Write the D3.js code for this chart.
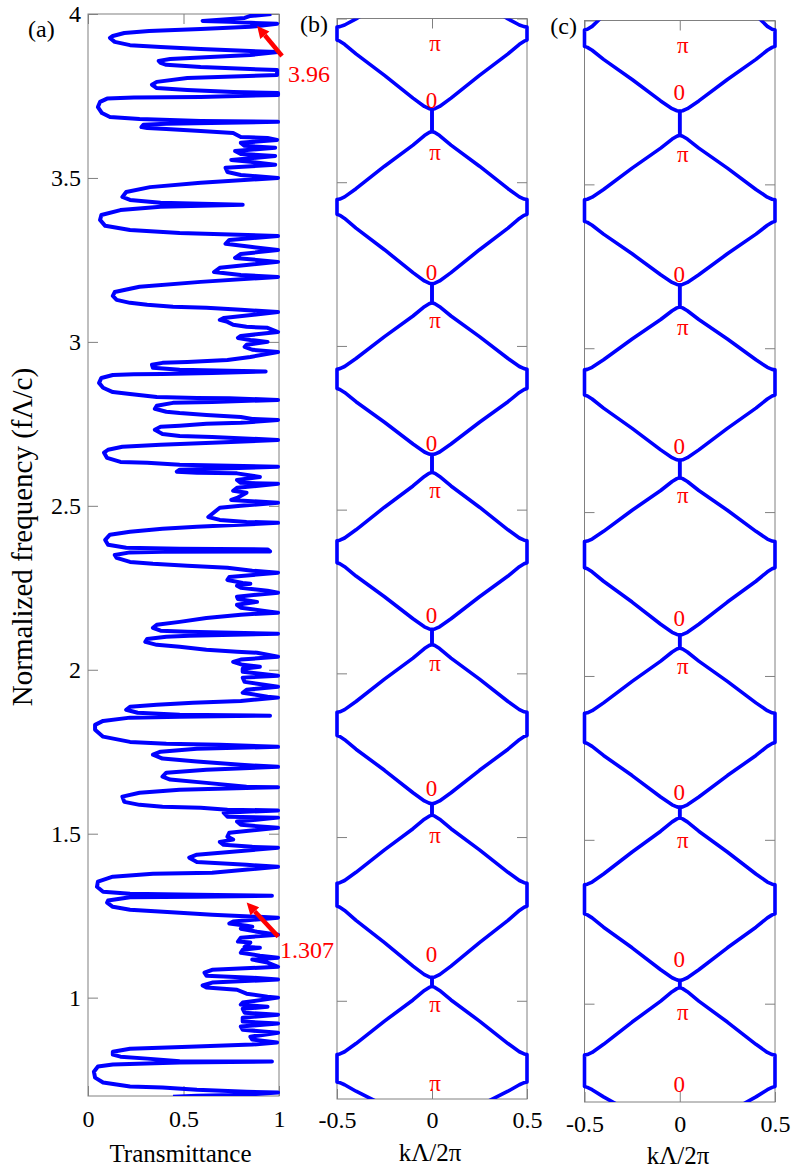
<!DOCTYPE html>
<html>
<head>
<meta charset="utf-8">
<script src="https://cdn.jsdelivr.net/npm/d3@7"></script>
<style>
  body { margin: 0; background: #fff; }
  text { font-family: "Liberation Serif", "Times New Roman", serif; }
</style>
</head>
<body>
<div id="chart"></div>
<script>
// ---- data ----
const freqTicks = [1, 1.5, 2, 2.5, 3, 3.5, 4];
const transTicks = [0, 0.5, 1];
const kTicks = [-0.5, 0, 0.5];

// (a) transmittance trace, [T, f] in drawing order
const transCurve = [
  [0.96,4.000],[0.85,3.994],[0.82,3.988],[0.60,3.979],[0.74,3.976],[0.99,3.970],[0.85,3.961],[0.59,3.954],[0.32,3.948],[0.19,3.942],[0.13,3.933],[0.115,3.927],[0.14,3.915],[0.22,3.905],[0.38,3.899],[0.59,3.893],[0.85,3.887],[0.995,3.884],
  [0.85,3.875],[0.64,3.869],[0.43,3.863],[0.37,3.857],[0.38,3.851],[0.41,3.845],[0.59,3.838],[0.99,3.829],
  [0.99,3.814],[0.52,3.805],[0.36,3.793],[0.335,3.784],[0.36,3.774],[0.52,3.768],[0.76,3.762],[0.995,3.759],
  [0.995,3.753],[0.59,3.747],[0.24,3.745],[0.10,3.742],[0.063,3.732],[0.052,3.716],[0.073,3.698],[0.115,3.686],[0.27,3.680],[0.59,3.674],[0.995,3.671],
  [0.41,3.665],[0.29,3.662],[0.28,3.655],[0.31,3.652],[0.41,3.649],[0.59,3.643],[0.76,3.637],[0.80,3.625],[0.94,3.622],[0.99,3.616],
  [0.80,3.607],[0.82,3.598],[0.98,3.592],[0.77,3.582],[0.80,3.573],[0.98,3.567],[0.75,3.555],[0.85,3.549],[0.98,3.540],[0.72,3.531],[0.73,3.518],[0.80,3.509],[0.995,3.500],
  [0.59,3.485],[0.325,3.472],[0.20,3.457],[0.18,3.442],[0.22,3.433],[0.38,3.424],[0.81,3.418],[0.38,3.412],[0.17,3.402],[0.07,3.387],[0.063,3.372],[0.09,3.354],[0.22,3.341],[0.48,3.332],[0.995,3.323],[0.74,3.311],[0.72,3.299],[0.85,3.290],[0.995,3.280],[0.80,3.268],[0.77,3.256],[0.995,3.244],[0.69,3.226],[0.66,3.213],[0.80,3.204],[0.995,3.198],[0.59,3.183],[0.27,3.168],[0.14,3.152],[0.13,3.140],
  [0.15,3.128],[0.22,3.119],[0.31,3.113],[0.445,3.107],[0.62,3.104],[0.80,3.098],[0.995,3.091],
  [0.71,3.073],[0.69,3.067],[0.73,3.061],[0.76,3.052],[0.83,3.046],[0.94,3.043],[0.995,3.030],
  [0.80,3.018],[0.785,3.012],[0.85,3.006],[0.94,3.000],[0.83,2.991],[0.82,2.985],[0.86,2.976],[0.995,2.969],
  [0.85,2.954],[0.73,2.945],[0.52,2.939],[0.39,2.936],[0.335,2.930],[0.34,2.921],[0.48,2.915],[0.74,2.912],[0.93,2.910],[0.65,2.905],[0.39,2.902],[0.24,2.901],[0.13,2.899],[0.07,2.890],[0.058,2.875],[0.079,2.860],[0.13,2.847],[0.22,2.841],[0.36,2.832],[0.57,2.829],[0.74,2.828],[0.995,2.823],
  [0.65,2.817],[0.445,2.814],[0.36,2.805],[0.35,2.796],[0.41,2.787],[0.48,2.783],[0.62,2.777],[0.80,2.771],[0.86,2.765],[0.995,2.762],
  [0.80,2.753],[0.62,2.750],[0.48,2.744],[0.38,2.741],[0.35,2.732],[0.39,2.719],[0.48,2.713],[0.65,2.710],[0.995,2.701],
  [0.65,2.692],[0.38,2.686],[0.18,2.680],[0.105,2.671],[0.084,2.662],[0.10,2.646],[0.17,2.634],[0.31,2.631],[0.48,2.625],[0.995,2.619],
  [0.48,2.610],[0.465,2.604],[0.57,2.601],[0.78,2.599],[0.90,2.588],[0.78,2.579],[0.80,2.570],[0.995,2.567],[0.78,2.555],[0.76,2.546],[0.83,2.540],[0.78,2.524],[0.75,2.518],[0.995,2.509],
  [0.80,2.500],[0.69,2.494],[0.63,2.466],[0.69,2.457],[0.83,2.451],[0.995,2.448],
  [0.57,2.436],[0.39,2.430],[0.22,2.421],[0.115,2.412],[0.09,2.396],[0.105,2.381],[0.20,2.372],[0.48,2.369],[0.94,2.367],[0.953,2.361],[0.39,2.360],[0.22,2.358],[0.14,2.350],[0.15,2.341],[0.22,2.329],[0.34,2.323],[0.52,2.317],[0.73,2.311],[0.86,2.302],[0.995,2.296],
  [0.74,2.283],[0.73,2.274],[0.81,2.265],[0.85,2.262],[0.78,2.256],[0.80,2.250],[0.94,2.241],[0.995,2.235],
  [0.78,2.223],[0.785,2.216],[0.885,2.207],[0.78,2.198],[0.80,2.189],[0.953,2.177],[0.995,2.174],
  [0.80,2.168],[0.62,2.158],[0.48,2.146],[0.36,2.137],[0.34,2.128],[0.38,2.119],[0.52,2.116],[0.995,2.110],
  [0.53,2.104],[0.41,2.101],[0.31,2.094],[0.30,2.085],[0.36,2.076],[0.48,2.070],[0.62,2.061],[0.78,2.055],[0.885,2.052],[0.995,2.040],
  [0.80,2.031],[0.76,2.024],[0.81,2.015],[0.90,2.009],[0.81,2.003],[0.81,1.994],[0.995,1.982],[0.81,1.976],[0.82,1.963],[0.995,1.948],[0.83,1.939],[0.81,1.930],[0.94,1.918],[0.995,1.915],
  [0.80,1.905],[0.55,1.899],[0.36,1.893],[0.22,1.887],[0.20,1.878],[0.26,1.869],[0.48,1.863],[0.953,1.860],
  [0.48,1.857],[0.22,1.854],[0.079,1.844],[0.037,1.832],[0.037,1.817],[0.079,1.796],[0.22,1.780],[0.41,1.774],[0.69,1.771],[0.995,1.765],
  [0.57,1.759],[0.38,1.750],[0.34,1.741],[0.39,1.729],[0.57,1.720],[0.80,1.710],[0.995,1.704],
  [0.62,1.695],[0.41,1.686],[0.39,1.674],[0.43,1.665],[0.62,1.655],[0.83,1.643],[0.995,1.642],
  [0.48,1.634],[0.27,1.625],[0.18,1.613],[0.19,1.597],[0.27,1.588],[0.39,1.582],[0.59,1.579],[0.73,1.573],[0.995,1.571],
  [0.71,1.564],[0.73,1.552],[0.995,1.549],[0.78,1.537],[0.80,1.527],[0.995,1.518],[0.74,1.503],[0.73,1.491],[0.76,1.482],[0.69,1.475],[0.71,1.466],[0.86,1.460],[0.995,1.457],
  [0.57,1.436],[0.53,1.427],[0.57,1.414],[0.83,1.405],[0.995,1.399],
  [0.65,1.381],[0.34,1.378],[0.13,1.369],[0.052,1.354],[0.047,1.338],[0.079,1.323],[0.22,1.317],[0.57,1.314],[0.963,1.311],
  [0.57,1.308],[0.22,1.306],[0.105,1.296],[0.10,1.290],[0.13,1.277],[0.22,1.268],[0.48,1.259],[0.65,1.253],[0.995,1.244],
  [0.76,1.232],[0.74,1.226],[0.83,1.219],[0.86,1.216],[0.80,1.210],[0.885,1.201],[0.995,1.192],
  [0.80,1.183],[0.785,1.171],[0.85,1.168],[0.82,1.155],[0.90,1.152],[0.81,1.146],[0.80,1.137],[0.90,1.128],[0.995,1.122],[0.86,1.116],[0.94,1.107],[0.995,1.094],
  [0.65,1.085],[0.61,1.076],[0.62,1.067],[0.86,1.061],[0.995,1.055],
  [0.65,1.046],[0.60,1.037],[0.62,1.031],[0.78,1.024],[0.83,1.012],[0.94,1.003],[0.995,1.000],
  [0.81,0.985],[0.80,0.979],[0.94,0.972],[0.81,0.966],[0.82,0.954],[0.995,0.948],[0.81,0.939],[0.81,0.927],[0.995,0.921],[0.80,0.912],[0.81,0.902],[0.995,0.893],[0.85,0.881],[0.86,0.872],[0.99,0.863],[0.86,0.857],
  [0.53,0.850],[0.22,0.844],[0.13,0.835],[0.13,0.826],[0.17,0.820],[0.31,0.814],[0.48,0.806],[0.963,0.805],[0.48,0.802],[0.13,0.796],[0.052,0.790],[0.031,0.774],[0.037,0.756],[0.079,0.741],[0.22,0.729],[0.39,0.726],[0.57,0.719],[0.83,0.713],[0.995,0.711],[0.83,0.704],[0.57,0.701],[0.445,0.698]
];

// arrows in (a): [T, f] of tail and head, plus their labels
const arrowTails = [[1.016, 3.872], [0.996, 1.186]];
const arrowHeads = [[0.869, 3.975], [0.813, 1.301]];
const arrowTexts = ["3.96", "1.307"];
const arrowTextPos = [[1.047, 3.793], [1.005, 1.122]];

// (b) band gaps: lower and upper frequency, first gap at zone edge, then alternating
const gapLoB = [0.752, 1.044, 1.289, 1.567, 1.810, 2.088, 2.338, 2.614, 2.870, 3.132, 3.402, 3.655, 3.934];
const gapHiB = [0.836, 1.071, 1.359, 1.602, 1.881, 2.134, 2.405, 2.668, 2.929, 3.190, 3.447, 3.723, 3.974];
const bandEndsB = [0.611, 4.13];
// (c)
const gapLoC = [0.747, 1.049, 1.274, 1.567, 1.797, 2.085, 2.330, 2.605, 2.857, 3.126, 3.387, 3.650, 3.921];
const gapHiC = [0.843, 1.071, 1.363, 1.599, 1.886, 2.125, 2.410, 2.658, 2.934, 3.193, 3.453, 3.723, 3.971];
const bandEndsC = [0.590, 4.25];

// shape of one band between its two edges (fraction of k travel, fraction of f travel)
const shapeS = [0, 0.03, 0.08, 0.2, 0.5, 0.8, 0.92, 0.97, 1];
const shapeT = [0, 0.008, 0.04, 0.16, 0.49, 0.80, 0.94, 0.985, 1];

// red phase labels at k = 0
const phaseTextB = ["π","0","π","0","π","0","π","0","π","0","π","0","π","π"];
const phaseFreqB = [3.926, 3.751, 3.593, 3.227, 3.078, 2.704, 2.560, 2.178, 2.033, 1.649, 1.507, 1.142, 0.989, 0.749];
const phaseTextC = ["π","0","π","0","π","0","π","0","π","0","π","0","π","0"];
const phaseFreqC = [3.926, 3.782, 3.594, 3.227, 3.064, 2.703, 2.551, 2.177, 2.030, 1.645, 1.499, 1.136, 0.975, 0.756];

// ---- drawing ----
const W = 791, H = 1171;
const blue = "#0000ff", red = "#ff0000", frameCol = "#808080";
const fmt = v => d3.format("~g")(v).replace("\u2212", "-");

const svg = d3.select("#chart").append("svg")
  .attr("width", W).attr("height", H);

const defs = svg.append("defs");
defs.append("marker")
  .attr("id", "head")
  .attr("viewBox", "0 0 10 10")
  .attr("refX", 0).attr("refY", 5)
  .attr("markerUnits", "userSpaceOnUse")
  .attr("markerWidth", 18).attr("markerHeight", 12)
  .attr("orient", "auto")
  .append("path").attr("d", "M0,0L10,5L0,10Z").attr("fill", red);

function styleAxis(g) {
  g.select(".domain").remove();
  g.selectAll(".tick line").attr("stroke", frameCol);
  g.selectAll("text").attr("font-family", "'Liberation Serif', 'Times New Roman', serif")
    .attr("font-size", 24).attr("fill", "#000");
}

function panel(box, xDomain, xTickVals, yLabels, xLabY) {
  const x = d3.scaleLinear().domain(xDomain).range([box.left, box.right]);
  const y = d3.scaleLinear().domain([0.7, 4]).range([box.bottom, box.top]);

  svg.append("g").attr("transform", `translate(${box.left},0)`)
    .call(d3.axisLeft(y).tickValues(freqTicks).tickSize(-10).tickSizeOuter(0).tickPadding(7)
      .tickFormat(yLabels ? fmt : ""))
    .call(styleAxis);
  svg.append("g").attr("transform", `translate(${box.right},0)`)
    .call(d3.axisRight(y).tickValues(freqTicks).tickSize(-10).tickSizeOuter(0).tickFormat(""))
    .call(styleAxis);
  svg.append("g").attr("transform", `translate(0,${box.top})`)
    .call(d3.axisTop(x).tickValues(xTickVals).tickSize(-10).tickSizeOuter(0).tickFormat(""))
    .call(styleAxis);
  const bx = svg.append("g").attr("transform", `translate(0,${box.bottom})`)
    .call(d3.axisBottom(x).tickValues(xTickVals).tickSize(-10).tickSizeOuter(0).tickFormat(fmt))
    .call(styleAxis);
  bx.selectAll("text").attr("y", xLabY).attr("dy", null);

  svg.append("rect")
    .attr("x", box.left).attr("y", box.top)
    .attr("width", box.right - box.left).attr("height", box.bottom - box.top)
    .attr("fill", "none").attr("stroke", frameCol).attr("stroke-width", 1);

  const clipId = "clip" + Math.round(box.left);
  defs.append("clipPath").attr("id", clipId).append("rect")
    .attr("x", box.left - 6).attr("y", box.top)
    .attr("width", box.right - box.left + 12).attr("height", box.bottom - box.top);
  return { x, y, clip: `url(#${clipId})` };
}

// panel (a)
const A = panel({ left: 88, right: 279, top: 14, bottom: 1096 }, [0, 1], transTicks, true, 31);
svg.append("path")
  .datum(transCurve)
  .attr("clip-path", A.clip)
  .attr("d", d3.line().x(d => A.x(d[0])).y(d => A.y(d[1])))
  .attr("fill", "none").attr("stroke", blue).attr("stroke-width", 4)
  .attr("stroke-linejoin", "round");

arrowTails.forEach((t, i) => {
  const x0 = A.x(t[0]), y0 = A.y(t[1]);
  const x1 = A.x(arrowHeads[i][0]), y1 = A.y(arrowHeads[i][1]);
  const len = Math.hypot(x1 - x0, y1 - y0), hl = 17;
  svg.append("line")
    .attr("x1", x0).attr("y1", y0)
    .attr("x2", x1 - (x1 - x0) / len * hl).attr("y2", y1 - (y1 - y0) / len * hl)
    .attr("stroke", red).attr("stroke-width", 4.5)
    .attr("marker-end", "url(#head)");
  svg.append("text")
    .attr("x", A.x(arrowTextPos[i][0])).attr("y", A.y(arrowTextPos[i][1]))
    .attr("font-size", 24).attr("fill", red)
    .text(arrowTexts[i]);
});

// band diagrams
function bandNodes(gapLo, gapHi, ends) {
  const nodes = [[ends[0], 0]];
  gapLo.forEach((lo, i) => {
    const k = i % 2 === 0 ? 0.5 : 0;
    nodes.push([lo, k], [gapHi[i], k]);
  });
  nodes.push([ends[1], nodes[nodes.length - 1][1] === 0.5 ? 0 : 0.5]);
  return nodes;
}

function bandPoints(nodes, sign) {
  const pts = [];
  for (let i = 0; i < nodes.length - 1; i++) {
    const [f0, k0] = nodes[i], [f1, k1] = nodes[i + 1];
    if (k0 === k1) { pts.push([sign * k0, f0]); continue; }
    shapeS.forEach((s, j) => pts.push([sign * (k0 + (k1 - k0) * s), f0 + (f1 - f0) * shapeT[j]]));
  }
  const last = nodes[nodes.length - 1];
  pts.push([sign * last[1], last[0]]);
  return pts;
}

function bandPanel(box, gapLo, gapHi, ends, texts, freqs, xLabY) {
  const P = panel(box, [-0.5, 0.5], kTicks, false, xLabY);
  const nodes = bandNodes(gapLo, gapHi, ends);
  const line = d3.line().x(d => P.x(d[0])).y(d => P.y(d[1]));
  [1, -1].forEach(sign => {
    svg.append("path")
      .datum(bandPoints(nodes, sign))
      .attr("clip-path", P.clip)
      .attr("d", line)
      .attr("fill", "none").attr("stroke", blue).attr("stroke-width", 3.6)
      .attr("stroke-linejoin", "round");
  });
  svg.append("g").selectAll("text")
    .data(texts)
    .join("text")
    .attr("x", (d) => P.x(d === "π" ? 0.016 : -0.003))
    .attr("y", (d, i) => P.y(freqs[i]))
    .attr("dy", "0.35em")
    .attr("text-anchor", "middle")
    .attr("font-size", 23).attr("fill", red)
    .text(d => d);
  return P;
}

const B = bandPanel({ left: 337, right: 527, top: 18.5, bottom: 1099 }, gapLoB, gapHiB, bandEndsB, phaseTextB, phaseFreqB, 29);
const C = bandPanel({ left: 584.5, right: 775, top: 20.5, bottom: 1102 }, gapLoC, gapHiC, bandEndsC, phaseTextC, phaseFreqC, 30);

// labels
svg.append("text").attr("x", 28).attr("y", 37).attr("font-size", 24).text("(a)");
svg.append("text").attr("x", 328).attr("y", 32).attr("font-size", 24).attr("text-anchor", "end").text("(b)");
svg.append("text").attr("x", 577).attr("y", 34).attr("font-size", 24).attr("text-anchor", "end").text("(c)");

svg.append("text").attr("x", 180.5).attr("y", 1161.5).attr("font-size", 25)
  .attr("text-anchor", "middle").text("Transmittance");
svg.append("text").attr("x", 430).attr("y", 1161).attr("font-size", 25)
  .attr("text-anchor", "middle").text("kΛ/2π");
svg.append("text").attr("x", 678).attr("y", 1164).attr("font-size", 25)
  .attr("text-anchor", "middle").text("kΛ/2π");
svg.append("text")
  .attr("transform", "translate(32,537) rotate(-90)")
  .attr("font-size", 29).attr("text-anchor", "middle")
  .text("Normalized frequency (fΛ/c)");
</script>
</body>
</html>
